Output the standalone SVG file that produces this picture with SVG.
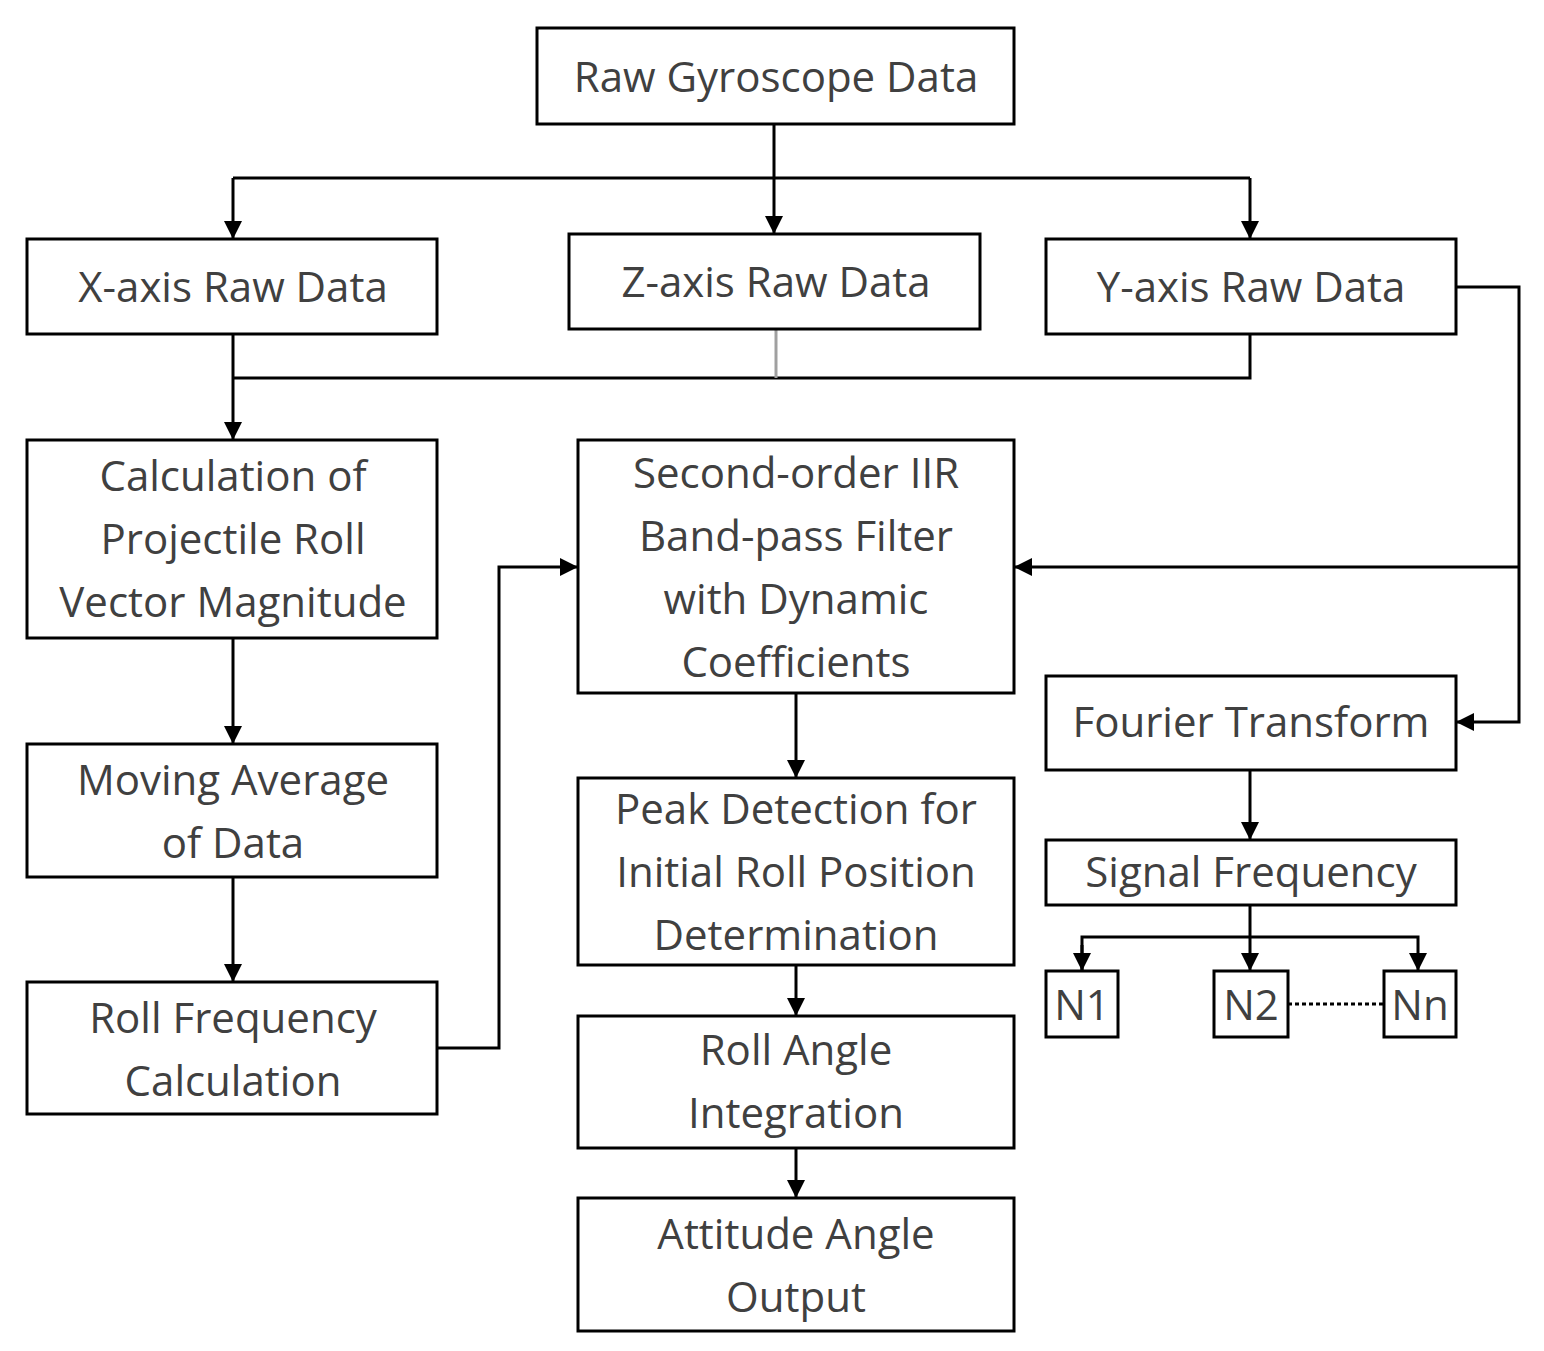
<svg xmlns="http://www.w3.org/2000/svg" width="1544" height="1351" viewBox="0 0 1544 1351">
<style>
.b{fill:#fff;stroke:#000;stroke-width:3}
.t{font-family:"Open Sans","Liberation Sans",sans-serif;font-size:42px;fill:#404040;text-anchor:middle}
.c{fill:none;stroke:#000;stroke-width:3}
</style>
<defs><marker id="a" viewBox="0 0 10 10" refX="10" refY="5" markerWidth="7" markerHeight="6" markerUnits="strokeWidth" orient="auto"><path d="M0,0L10,5L0,10z" fill="#000"/></marker></defs>
<rect width="1544" height="1351" fill="#fff"/>
<g id="connectors">
<path class="c" d="M774,124V178M233,178H1250"/>
<path class="c" d="M233,178V239" marker-end="url(#a)"/>
<path class="c" d="M774,178V234" marker-end="url(#a)"/>
<path class="c" d="M1250,178V239" marker-end="url(#a)"/>
<path class="c" d="M233,334V440" marker-end="url(#a)"/>
<path class="c" d="M233,378H1250V334"/>
<path d="M776,329V378" stroke="#a0a0a0" stroke-width="3"/>
<path class="c" d="M1456,287H1519V722H1456" marker-end="url(#a)"/>
<path class="c" d="M1519,567H1014" marker-end="url(#a)"/>
<path class="c" d="M437,1048H499V567H578" marker-end="url(#a)"/>
<path class="c" d="M233,638V744" marker-end="url(#a)"/>
<path class="c" d="M233,877V982" marker-end="url(#a)"/>
<path class="c" d="M796,693V778" marker-end="url(#a)"/>
<path class="c" d="M796,965V1016" marker-end="url(#a)"/>
<path class="c" d="M796,1148V1198" marker-end="url(#a)"/>
<path class="c" d="M1250,770V840" marker-end="url(#a)"/>
<path class="c" d="M1250,905V971" marker-end="url(#a)"/>
<path class="c" d="M1082,971V937H1418V971" marker-end="url(#a)"/>
<path class="c" d="M1082,945V971" marker-end="url(#a)"/>
<path d="M1288,1004H1384" stroke="#000" stroke-width="3" stroke-dasharray="4,3"/>
</g>
<g id="raw"><rect class="b" x="537" y="28" width="477" height="96"/><text class="t" x="776" y="92">Raw Gyroscope Data</text></g>
<g id="x"><rect class="b" x="27" y="239" width="410" height="95"/><text class="t" x="233" y="302">X-axis Raw Data</text></g>
<g id="z"><rect class="b" x="569" y="234" width="411" height="95"/><text class="t" x="776" y="297">Z-axis Raw Data</text></g>
<g id="y"><rect class="b" x="1046" y="239" width="410" height="95"/><text class="t" x="1251" y="302">Y-axis Raw Data</text></g>
<g id="calc"><rect class="b" x="27" y="440" width="410" height="198"/><text class="t" x="233" y="491">Calculation of</text><text class="t" x="233" y="554">Projectile Roll</text><text class="t" x="233" y="617">Vector Magnitude</text></g>
<g id="mov"><rect class="b" x="27" y="744" width="410" height="133"/><text class="t" x="233" y="795">Moving Average</text><text class="t" x="233" y="858">of Data</text></g>
<g id="rf"><rect class="b" x="27" y="982" width="410" height="132"/><text class="t" x="233" y="1033">Roll Frequency</text><text class="t" x="233" y="1096">Calculation</text></g>
<g id="iir"><rect class="b" x="578" y="440" width="436" height="253"/><text class="t" x="796" y="488">Second-order IIR</text><text class="t" x="796" y="551">Band-pass Filter</text><text class="t" x="796" y="614">with Dynamic</text><text class="t" x="796" y="677">Coefficients</text></g>
<g id="peak"><rect class="b" x="578" y="778" width="436" height="187"/><text class="t" x="796" y="824">Peak Detection for</text><text class="t" x="796" y="887">Initial Roll Position</text><text class="t" x="796" y="950">Determination</text></g>
<g id="ra"><rect class="b" x="578" y="1016" width="436" height="132"/><text class="t" x="796" y="1065">Roll Angle</text><text class="t" x="796" y="1128">Integration</text></g>
<g id="att"><rect class="b" x="578" y="1198" width="436" height="133"/><text class="t" x="796" y="1249">Attitude Angle</text><text class="t" x="796" y="1312">Output</text></g>
<g id="ft"><rect class="b" x="1046" y="676" width="410" height="94"/><text class="t" x="1251" y="737">Fourier Transform</text></g>
<g id="sf"><rect class="b" x="1046" y="840" width="410" height="65"/><text class="t" x="1251" y="887">Signal Frequency</text></g>
<g id="n1"><rect class="b" x="1046" y="971" width="72" height="66"/><text class="t" x="1082" y="1020">N1</text></g>
<g id="n2"><rect class="b" x="1214" y="971" width="74" height="66"/><text class="t" x="1251" y="1020">N2</text></g>
<g id="nn"><rect class="b" x="1384" y="971" width="72" height="66"/><text class="t" x="1420" y="1020">Nn</text></g>
</svg>
